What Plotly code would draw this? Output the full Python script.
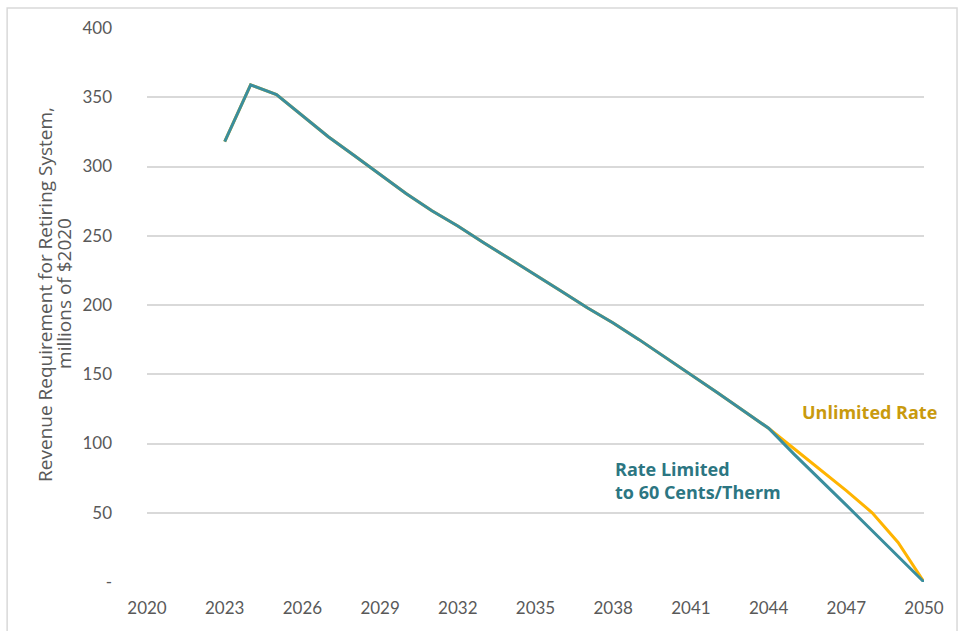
import plotly.graph_objects as go

# Revenue requirement for the retiring gas system, millions of $2020
years = list(range(2023, 2051))

# Both paths are identical through 2044
shared = [318, 359, 352, 337, 321.5, 308, 294, 280.5, 268, 257,
          245, 233.5, 222, 210, 198, 187, 175, 162.5, 150, 137,
          124, 111]
rate_limited_tail = [92, 74, 55.5, 37, 18.5, 0]
unlimited_tail = [96, 81, 66, 50, 28.5, 0]

rate_limited = shared + rate_limited_tail
unlimited = shared + unlimited_tail

x_ticks = list(range(2020, 2051, 3))
y_ticks = [0, 50, 100, 150, 200, 250, 300, 350, 400]
y_tick_text = ["-", "50", "100", "150", "200", "250", "300", "350", "400"]

y_title_lines = ["Revenue Requirement for Retiring System,", "millions of $2020"]

TEAL = "#3A8E9E"
TEAL_TEXT = "#2C7682"
GOLD = "#FFB400"
GOLD_TEXT = "#C99A0E"
GREY_TEXT = "#595959"
GRID = "#D9D9D9"
FONT = "Lato"
LABEL_FONT = "Open Sans"

fig = go.Figure()
fig.add_trace(go.Scatter(
    x=years, y=unlimited, mode="lines", name="Unlimited Rate",
    line=dict(color=GOLD, width=3), hoverinfo="x+y",
))
fig.add_trace(go.Scatter(
    x=years, y=rate_limited, mode="lines", name="Rate Limited to 60 Cents/Therm",
    line=dict(color=TEAL, width=3), hoverinfo="x+y",
))

# Axis title drawn as two rotated lines
title_annotations = [
    dict(text=line, xref="paper", yref="paper", x=xp, y=0.52,
         xanchor="center", yanchor="middle", textangle=-90, showarrow=False,
         font=dict(family=LABEL_FONT, size=19, color=GREY_TEXT))
    for line, xp in zip(y_title_lines, [-0.1313, -0.1068])
]

fig.update_layout(
    width=964, height=631,
    margin=dict(l=147, r=40, t=28, b=49),
    paper_bgcolor="white", plot_bgcolor="white",
    showlegend=False,
    font=dict(family=FONT, size=16, color=GREY_TEXT),
    xaxis=dict(
        range=[2020, 2050], tickvals=x_ticks, ticktext=[str(v) for v in x_ticks],
        showgrid=False, zeroline=False, showline=False, ticks="",
        ticklabelstandoff=14,
        tickfont=dict(family=FONT, size=17, color=GREY_TEXT),
    ),
    yaxis=dict(
        range=[0, 400], tickvals=y_ticks, ticktext=y_tick_text,
        showgrid=True, gridcolor=GRID, gridwidth=1.5,
        zeroline=False, showline=False, ticks="",
        ticklabelstandoff=34,
        tickfont=dict(family=FONT, size=17, color=GREY_TEXT),
    ),
    annotations=title_annotations + [
        dict(text="<b>Unlimited Rate</b>", xref="x", yref="y",
             x=2045.2, y=123, xanchor="left", yanchor="middle",
             showarrow=False, font=dict(family=LABEL_FONT, size=18, color=GOLD_TEXT)),
        dict(text="<b>Rate Limited<br>to 60 Cents/Therm</b>", xref="x", yref="y",
             x=2038.0, y=73.5, xanchor="left", yanchor="middle", align="left",
             showarrow=False, font=dict(family=LABEL_FONT, size=18, color=TEAL_TEXT)),
    ],
    shapes=[
        dict(type="rect", xref="paper", yref="paper",
             x0=-0.180, x1=1.0425, y0=-0.2, y1=1.036,
             line=dict(color=GRID, width=1.5), layer="below"),
    ],
)

fig.write_html("out.html")
